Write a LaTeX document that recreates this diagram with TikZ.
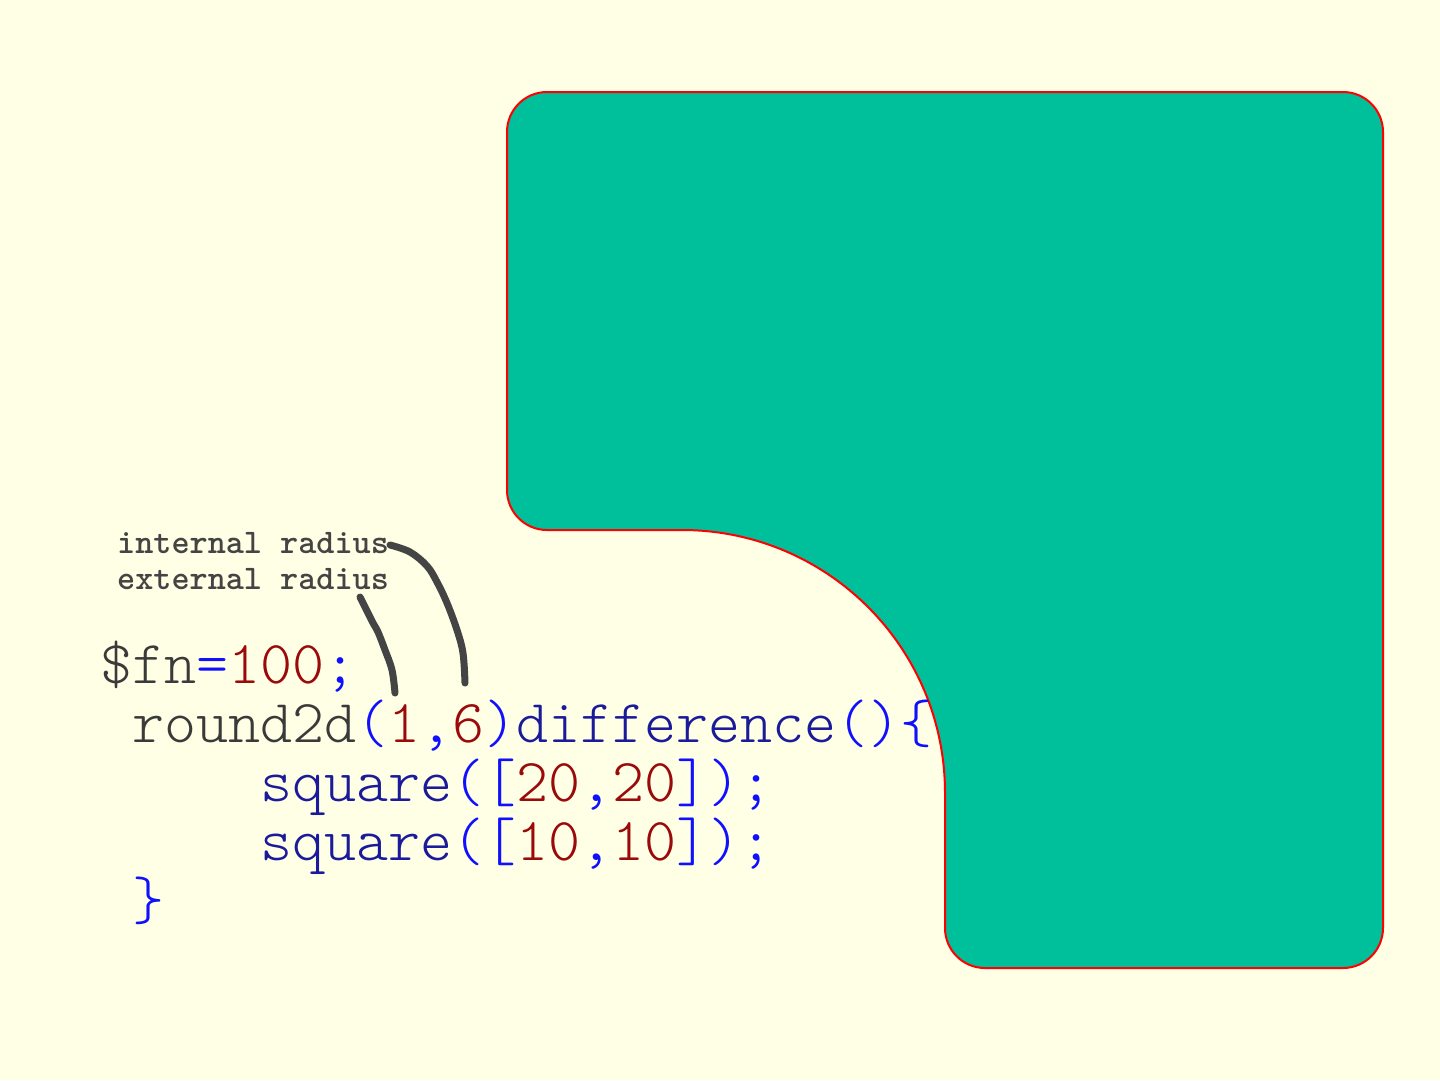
\documentclass[tikz,border=0pt]{standalone}
\usepackage{fontspec}
\newfontfamily\codefont{lmmonolt10-regular.otf}
\newfontfamily\lblfont{lmmonolt10-bold.otf}
\definecolor{bg}{HTML}{FFFFE5}
\definecolor{shapefill}{HTML}{00BF9B}
\definecolor{shapeline}{HTML}{FF0000}
\definecolor{cgray}{HTML}{3A3A3A}
\definecolor{cred}{HTML}{9A0A0A}
\definecolor{cblue}{HTML}{1010FF}
\definecolor{cnavy}{HTML}{1A1A9A}
\definecolor{ink}{HTML}{444444}
\tikzset{
  codeline/.style={anchor=base west, inner sep=0pt, font=\codefont\fontsize{61}{61}\selectfont},
  lbl/.style={anchor=base west, inner sep=0pt, text=ink, font=\lblfont\fontsize{34.5}{34.5}\selectfont},
  pen/.style={draw=ink, line width=7pt, line cap=round, line join=round},
}
\newcommand{\kgray}[1]{\textcolor{cgray}{#1}}
\newcommand{\kred}[1]{\textcolor{cred}{#1}}
\newcommand{\kblue}[1]{\textcolor{cblue}{#1}}
\newcommand{\knavy}[1]{\textcolor{cnavy}{#1}}
\begin{document}
\begin{tikzpicture}[x=1pt,y=-1pt]
\fill[bg] (0,0) rectangle (1440,1080);
\useasboundingbox (0,0) rectangle (1440,1080);
% shape
\filldraw[fill=shapefill, draw=shapeline, line width=2pt]
  (547,92) -- (1343,92)
  .. controls (1365.1,92) and (1383,109.9) .. (1383,132)
  -- (1383,928)
  .. controls (1383,950.1) and (1365.1,968) .. (1343,968)
  -- (985,968)
  .. controls (962.9,968) and (945,950.1) .. (945,928)
  -- (945,793)
  .. controls (945,647.7) and (827.3,530) .. (682,530)
  -- (547,530)
  .. controls (524.9,530) and (507,512.1) .. (507,490)
  -- (507,132)
  .. controls (507,109.9) and (524.9,92) .. (547,92) -- cycle;
% labels
\node[lbl] (lblint) at (117,553) {internal radius};
\node[lbl] (lblext) at (117,589) {external radius};
% code
\node[codeline] (l1) at (100,683) {\kgray{\$fn}\kblue{=}\kred{100}\kblue{;}};
\node[codeline] (l2) at (132,742) {\kgray{round2d}\kblue{(}\kred{1}\kblue{,}\kred{6}\kblue{)}\knavy{difference}\kblue{()\{}};
\node[codeline] (l3) at (260,801) {\knavy{square}\kblue{([}\kred{20}\kblue{,}\kred{20}\kblue{]);}};
\node[codeline] (l4) at (260,860) {\knavy{square}\kblue{([}\kred{10}\kblue{,}\kred{10}\kblue{]);}};
\node[codeline] (l5) at (132,919) {\kblue{\}}};
% connectors
\coordinate (intstart) at (390,545);
\coordinate (sixend) at (465,683);
\coordinate (extstart) at (360,597);
\coordinate (oneend) at (395,693);
\draw[pen] plot[smooth, tension=0.6] coordinates {(intstart) (410,552) (427,566) (437,582) (447,603) (457,630) (463,653) (sixend)};
\draw[pen] plot[smooth, tension=0.6] coordinates {(extstart) (367,611) (373,623) (378,632) (385,650) (392,670) (oneend)};
\end{tikzpicture}
\end{document}
